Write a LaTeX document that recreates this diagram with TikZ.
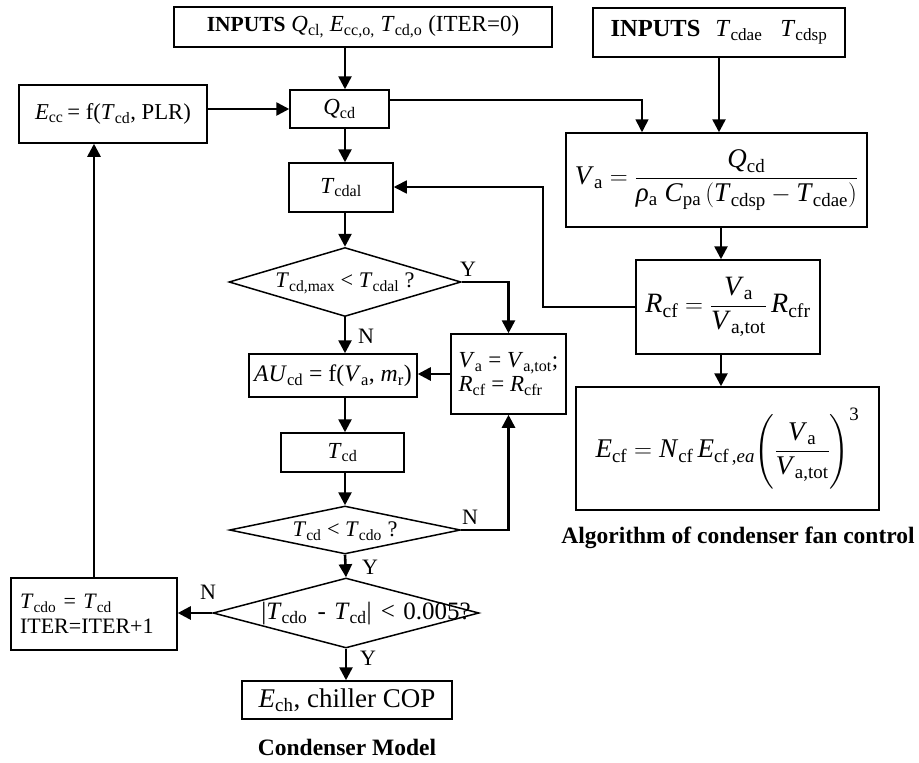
\documentclass[tikz,border=0pt]{standalone}
\usepackage{fontspec}
\setmainfont{Liberation Serif}
\usepackage{amsmath}
\usetikzlibrary{arrows.meta,shapes.geometric,calc}
\newcommand{\vs}[2]{\textit{#1}\textsubscript{#2}}
\newcommand{\mv}[2]{\text{\vs{#1}{#2}}}
\newcommand{\fs}[2]{\fontsize{#1}{#2}\selectfont}
\begin{document}
\begin{tikzpicture}[x=1pt,y=-1pt,
  box/.style={draw,line width=1.5pt,inner sep=0pt,align=center},
  dia/.style={draw,line width=1.5pt,diamond,inner sep=0pt},
  arr/.style={line width=2.6pt,-{Triangle[length=13pt,width=13pt]}},
  tarr/.style={line width=1.6pt,-{Triangle[length=13pt,width=13pt]}},
  lbl/.style={font=\fs{22}{26}},
  every node/.style={font=\fs{23}{27}}]
\useasboundingbox (0,0) rectangle (919,763);
% column coordinates
\coordinate (k3) at (345,0);
\coordinate (k1) at (721,0);
\coordinate (c1) at (642,100);
\coordinate (k2) at (543,187);
% condenser model
\node[box,minimum width=378pt,minimum height=40pt] (in1) at (363,27)
  {{\fs{21.5}{26}\textbf{INPUTS}} \vs{Q}{cl,} \vs{E}{cc,o,} \vs{T}{cd,o} (ITER=0)};
\node[box,minimum width=99pt,minimum height=38pt] (qcd) at (339.5,109) {\vs{Q}{cd}};
\node[box,minimum width=188pt,minimum height=58pt,font=\fs{22.7}{27}] (ecc) at (113,114)
  {\vs{E}{cc}\,= f(\vs{T}{cd}, PLR)};
\node[box,minimum width=104pt,minimum height=49pt] (tcdal) at (341,187.5) {\vs{T}{cdal}};
\node[dia,minimum width=232pt,minimum height=69pt] (d1) at (345,282) {};
\node[font=\fs{22.3}{26}] (d1t) at (345,283) {\vs{T}{cd,max} < \vs{T}{cdal} ?};
\node[box,minimum width=168pt,minimum height=43pt,font=\fs{23.7}{28}] (au) at (333,375.5)
  {\textit{AU}\textsubscript{cd} = f(\vs{V}{a}, \vs{m}{r})};
\node[box,minimum width=115pt,minimum height=80pt,align=left,font=\fs{23}{24}] (vat) at (508.5,374)
  {\vs{V}{a} = \vs{V}{a,tot};\\ \vs{R}{cf} = \vs{R}{cfr}};
\node[box,minimum width=123pt,minimum height=39pt] (tcd) at (342.5,452.5) {\vs{T}{cd}};
\node[dia,minimum width=231pt,minimum height=48pt] (d2) at (345,530) {};
\node[font=\fs{22.3}{26}] (d2t) at (345,531) {\vs{T}{cd} < \vs{T}{cdo} ?};
\node[dia,minimum width=266pt,minimum height=70pt] (d3) at (346,613) {};
\node[font=\fs{25}{29}] (d3t) at (366,614) {|\vs{T}{cdo}\hspace{4pt} - \hspace{2pt}\vs{T}{cd}|\hspace{3pt} < \hspace{2pt}0.005?};
\node[box,minimum width=166pt,minimum height=72pt,align=left,text width=148pt,font=\fs{22}{25}] (tcdo) at (94,614)
  {\vs{T}{cdo} = \vs{T}{cd}\\ ITER=ITER+1};
\node[box,minimum width=210pt,minimum height=38pt,font=\fs{27}{30}] (ech) at (347,700)
  {\vs{E}{ch}, chiller COP};
\node[font=\fs{23.5}{28}\bfseries] (cap1) at (347,747) {Condenser Model};
% fan control
\node[box,minimum width=252pt,minimum height=49pt,font=\fs{24.5}{28}] (in2) at (719,32.5)
  {\textbf{INPUTS}\hspace{15pt}\vs{T}{cdae}\hspace{18pt}\vs{T}{cdsp}};
\node[box,minimum width=301pt,minimum height=94pt,font=\fs{27}{30}] (va) at (716.5,180)
  {$\mv{V}{a} = \dfrac{\mv{Q}{cd}}{\text{\textit{ρ}\textsubscript{a}}\;\mv{C}{pa}\,(\mv{T}{cdsp} - \mv{T}{cdae})}$};
\node[box,minimum width=184pt,minimum height=94pt,font=\fs{28}{32}] (rcf) at (728,307)
  {$\mv{R}{cf} = \dfrac{\mv{V}{a}}{\mv{V}{a,tot}}\,\mv{R}{cfr}$};
\node[box,minimum width=303pt,minimum height=123pt,font=\fs{27}{30}] (ecf) at (727.5,448.5)
  {$\mv{E}{cf} = \mv{N}{cf}\,\text{\textit{E}\textsubscript{cf\,,\textit{ea}}}\Biggl(\dfrac{\mv{V}{a}}{\mv{V}{a,tot}}\Biggr)^{\text{3}}$};
\node[font=\fs{23.5}{28}\bfseries] (cap2) at (738,538) {Algorithm of condenser fan control};
% labels
\node[lbl] (y1) at (468,269) {Y};
\node[lbl] (n1) at (366,336) {N};
\node[lbl] (n2) at (470,517) {N};
\node[lbl] (y2) at (370,567) {Y};
\node[lbl] (n3) at (208,592) {N};
\node[lbl] (y3) at (368,658) {Y};
% connectors
\draw[arr] (in1.south -| k3) -- (qcd.north -| k3);
\draw[arr] (qcd.west -| ecc.east) -- (qcd.west);
\draw[arr] (qcd.south -| k3) -- (tcdal.north -| k3);
\draw[arr] (tcdal.south -| k3) -- (d1.north);
\draw[arr] (d1.south) -- (au.north -| d1.south);
\draw[arr] (au.south -| k3) -- (tcd.north -| k3);
\draw[arr] (tcd.south -| k3) -- (d2.north);
\draw[arr] (d2.south) -- (d3.north);
\draw[arr] (d3.south) -- (ech.north -| d3.south);
\draw[arr] (d1.east) -| (vat.north);
\draw[arr] (d2.east) -| (vat.south);
\draw[arr] (vat.west) -- (vat.west -| au.east);
\draw[arr] (d3.west) -- (d3.west -| tcdo.east);
\draw[arr] (tcdo.north) -- (tcdo.north |- ecc.south);
\draw[tarr] (qcd.east |- c1) -- (c1) -- (c1 |- va.north);
\draw[arr] (in2.south) -- (in2.south |- va.north);
\draw[arr] (va.south -| k1) -- (rcf.north -| k1);
\draw[arr] (rcf.south -| k1) -- (ecf.north -| k1);
\draw[tarr] (rcf.west) -| (k2) -- (k2 -| tcdal.east);
\end{tikzpicture}
\end{document}
